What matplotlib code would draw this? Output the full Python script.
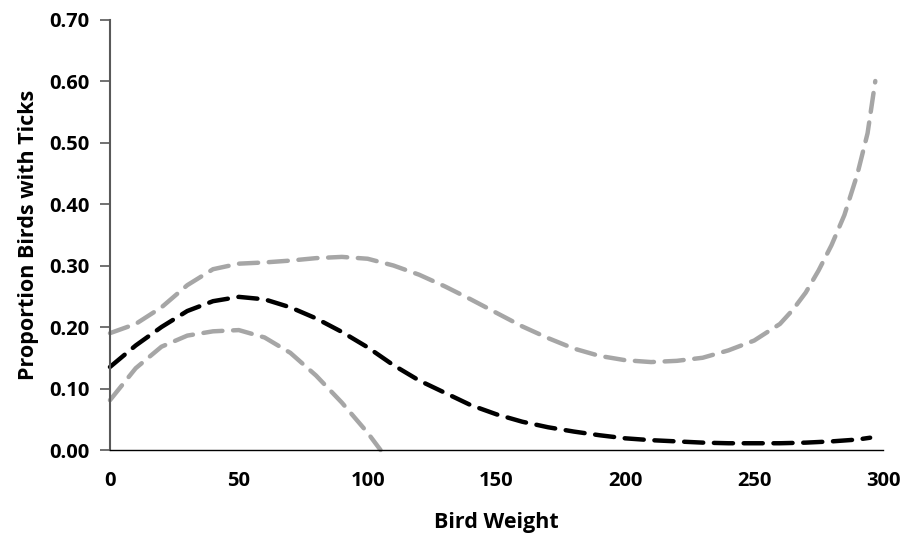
#bird_ticks.py

import numpy as np
import matplotlib
matplotlib.use("Agg")
import matplotlib.pyplot as plt

#values
x_fit = [0, 10, 20, 30, 40, 50, 60, 70, 80, 90, 100, 110, 120, 130, 140, 150,
         160, 170, 180, 190, 200, 210, 220, 230, 240, 250, 260, 270, 280, 290, 295]
fit = [0.135, 0.170, 0.200, 0.226, 0.242, 0.249, 0.245, 0.232, 0.214, 0.192, 0.167,
       0.138, 0.113, 0.093, 0.073, 0.058, 0.046, 0.037, 0.030, 0.024, 0.019, 0.016,
       0.014, 0.012, 0.011, 0.011, 0.011, 0.012, 0.014, 0.017, 0.020]

x_upper = [0, 10, 20, 30, 40, 50, 60, 70, 80, 90, 100, 110, 120, 130, 140, 150,
           160, 170, 180, 190, 200, 210, 220, 230, 240, 250, 260, 265, 270, 275, 280,
           285, 290, 294, 297]
upper = [0.190, 0.205, 0.232, 0.268, 0.294, 0.303, 0.305, 0.308, 0.312, 0.314, 0.311,
         0.300, 0.285, 0.266, 0.245, 0.223, 0.201, 0.182, 0.165, 0.153, 0.146, 0.143,
         0.145, 0.150, 0.162, 0.178, 0.205, 0.228, 0.256, 0.292, 0.333,
         0.382, 0.448, 0.515, 0.600]

x_lower = [0, 10, 20, 30, 40, 50, 60, 70, 80, 90, 100, 105]
lower = [0.081, 0.133, 0.168, 0.186, 0.193, 0.195, 0.183, 0.158, 0.121, 0.077, 0.028, 0.0]

x_ticks = [0, 50, 100, 150, 200, 250, 300]
y_ticks = [0.0, 0.1, 0.2, 0.3, 0.4, 0.5, 0.6, 0.7]

#plot
plt.rcParams['font.family'] = ['Open Sans', 'DejaVu Sans']
fig = plt.figure(figsize=(9.08, 5.39), dpi=100)
ax = fig.add_axes([0.1211, 0.1651, 0.8514, 0.7987])

gray = '#a6a6a6'
lw = 3.2
dash = (4.3, 2.4)
ax.plot(x_upper, upper, color=gray, lw=lw, dashes=dash, dash_capstyle='round', clip_on=False)
ax.plot(x_lower, lower, color=gray, lw=lw, dashes=dash, dash_capstyle='round', clip_on=False)
ax.plot(x_fit, fit, color='black', lw=lw, dashes=dash, dash_capstyle='round', clip_on=False)

ax.set_xlim(0, 300)
ax.set_ylim(0, 0.70)
ax.set_xticks(x_ticks)
ax.set_yticks(y_ticks)
ax.set_yticklabels([f"{v:.2f}" for v in y_ticks])

for side in ['top', 'right']:
    ax.spines[side].set_visible(False)
ax.spines['left'].set_color('#595959')
ax.spines['left'].set_linewidth(1.5)
ax.spines['bottom'].set_color('black')
ax.spines['bottom'].set_linewidth(1.0)

ax.tick_params(axis='x', length=0, pad=15, labelsize=14.5)
ax.tick_params(axis='y', length=7, width=1.2, color='#595959', pad=8, labelsize=14.5)
for lab in ax.get_xticklabels() + ax.get_yticklabels():
    lab.set_fontweight('bold')

ax.set_xlabel("Bird Weight", fontsize=15.5, fontweight='bold', labelpad=15)
ax.set_ylabel("Proportion Birds with Ticks", fontsize=15.5, fontweight='bold', labelpad=7)

fig.savefig("out.png", dpi=100)
